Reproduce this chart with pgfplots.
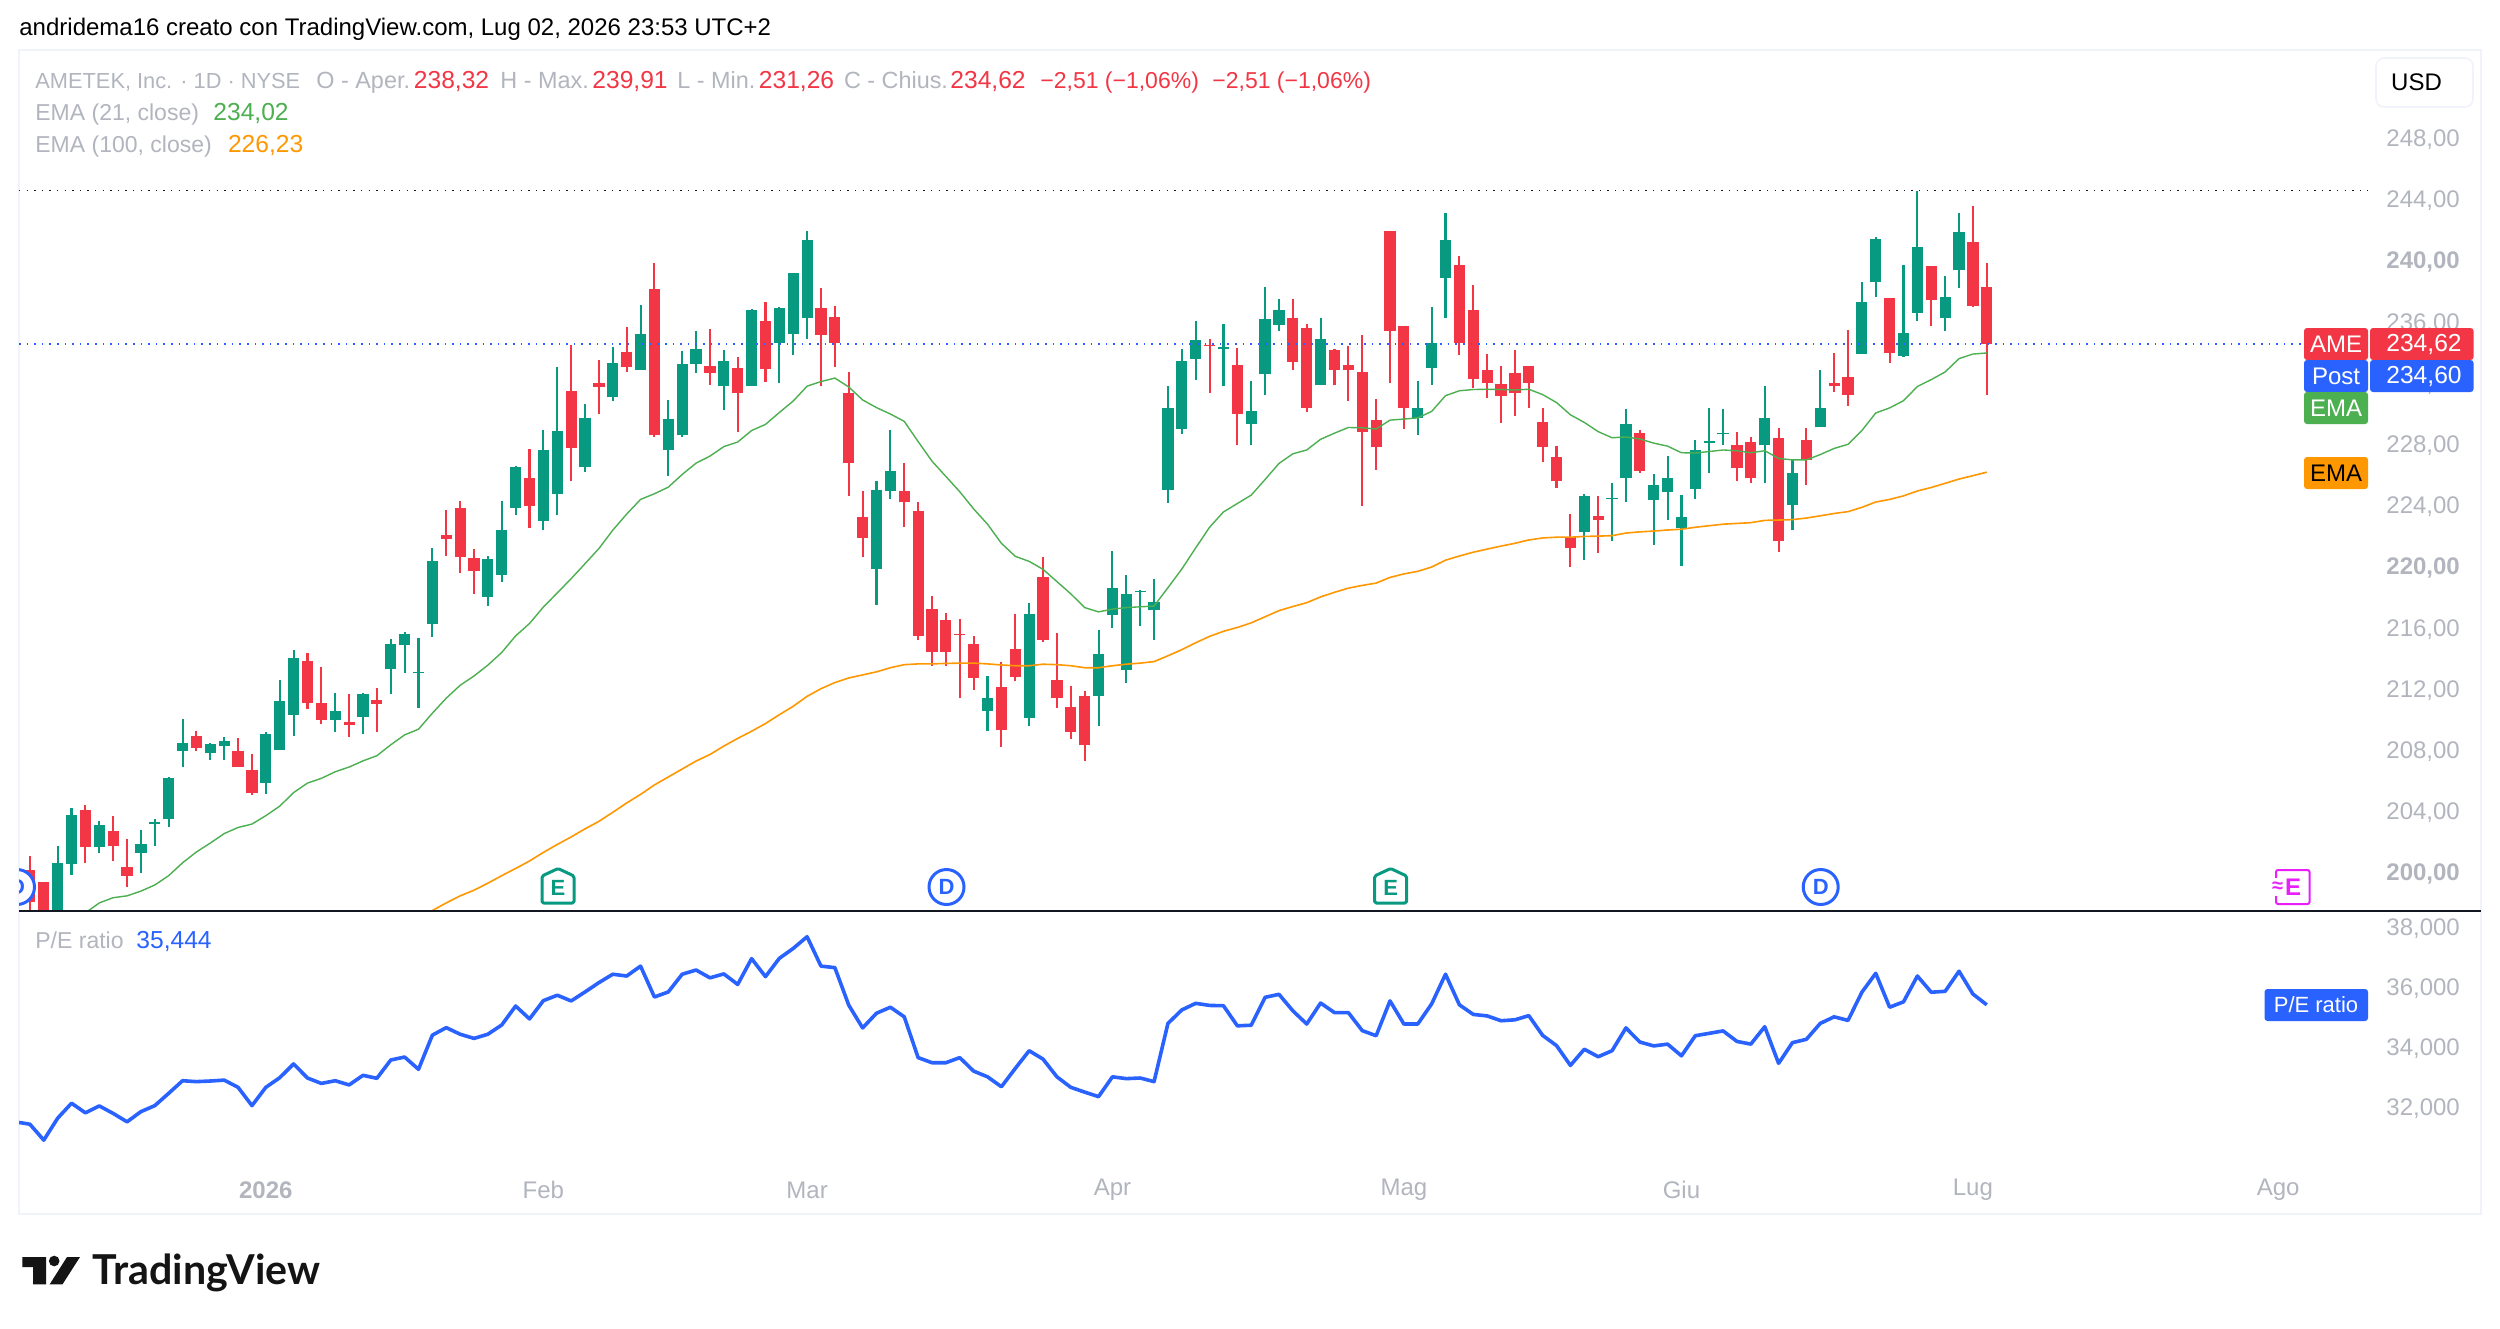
\documentclass[border=0pt]{standalone}
\usepackage{fontspec}
\setmainfont{Liberation Sans}
\newfontfamily\logofont{Lato}
\usepackage{pgfplots}
\usepackage{pgfplotstable}
\pgfplotsset{compat=1.18}
\definecolor{tvgreen}{HTML}{089981}
\definecolor{tvred}{HTML}{F23645}
\definecolor{tvblue}{HTML}{2962FF}
\definecolor{tvgray}{HTML}{B2B5BE}
\definecolor{emag}{HTML}{4CAF50}
\definecolor{emao}{HTML}{FF9800}
\definecolor{tvframe}{HTML}{F0F3FA}
\definecolor{tvblack}{HTML}{131722}
\definecolor{tvmag}{HTML}{E91EFB}
\pgfplotstableread{
i hi top bot lo
2 201.78 200.70 196.50 196.50
3 204.28 203.81 200.60 199.93
5 203.41 203.20 201.71 201.35
8 202.83 201.96 201.35 200.05
9 203.54 203.35 203.26 201.78
10 206.34 206.22 203.54 203.07
11 210.11 208.56 207.98 206.99
13 208.50 208.44 207.88 207.39
14 208.93 208.69 208.32 207.45
17 209.24 209.12 205.94 205.17
18 212.63 211.25 208.10 208.10
19 214.61 214.11 210.38 208.99
22 211.83 210.60 210.01 209.24
24 211.77 211.71 210.26 209.09
26 215.35 214.98 213.34 211.71
27 215.81 215.66 214.92 213.10
28 215.41 213.19 213.10 210.85
29 221.30 220.41 216.30 215.47
33 220.72 220.53 218.06 217.48
34 224.36 222.44 219.48 219.05
35 226.64 226.58 223.89 223.40
37 228.98 227.69 223.03 222.47
38 233.12 228.92 224.79 223.40
40 230.68 229.78 226.55 226.24
42 234.41 233.36 231.11 230.86
44 237.13 235.27 232.93 232.93
46 230.96 229.72 227.66 225.99
47 234.15 233.28 228.63 228.55
48 235.45 234.25 233.30 232.70
50 234.23 233.48 231.85 230.30
52 236.88 236.80 231.85 231.83
54 237.00 236.93 234.68 232.08
55 239.23 239.23 235.23 233.88
56 242.00 241.43 236.28 234.93
61 225.65 225.05 219.88 217.55
62 228.98 226.28 225.03 224.50
69 212.90 211.45 210.60 209.33
72 217.65 216.98 210.15 209.63
77 215.90 214.35 211.58 209.63
78 221.08 218.63 216.88 216.03
79 219.50 218.25 213.30 212.48
80 218.53 218.45 218.38 216.20
81 219.23 217.75 217.20 215.25
82 231.88 230.45 225.08 224.20
83 234.25 233.48 229.08 228.73
84 236.13 234.88 233.60 232.28
86 235.93 234.40 234.30 231.83
88 232.18 230.20 229.35 227.98
89 238.35 236.25 232.65 231.25
90 237.55 236.80 235.88 235.43
93 236.30 234.95 231.90 231.90
100 232.18 230.40 229.78 228.63
101 237.00 234.65 233.03 231.93
102 243.15 241.38 238.95 236.33
112 224.78 224.65 222.35 220.50
114 225.50 224.55 224.45 221.70
115 230.38 229.40 225.88 224.25
117 226.13 225.38 224.38 221.45
118 227.28 225.83 224.95 223.13
119 224.73 223.30 222.55 220.13
120 228.35 227.65 225.13 224.50
121 230.40 228.25 228.15 226.15
122 230.35 228.80 228.70 228.03
125 231.88 229.78 227.98 225.55
127 227.10 226.20 224.10 222.43
129 232.90 230.40 229.15 229.15
132 238.63 237.35 233.95 233.95
133 241.58 241.50 238.63 237.70
135 239.78 235.30 233.80 233.75
136 244.63 240.93 236.65 236.10
138 239.03 237.65 236.28 235.48
139 243.15 241.90 239.43 238.25
}\upcandles
\pgfplotstableread{
i hi top bot lo
0 201.13 200.23 198.14 197.00
1 199.46 199.46 196.50 196.50
4 204.46 204.18 201.71 200.67
6 203.75 202.76 201.78 200.85
7 202.24 200.45 199.86 199.12
12 209.30 208.99 208.22 207.98
15 208.87 207.98 206.99 206.93
16 207.82 206.77 205.26 205.14
20 214.42 213.87 211.15 210.72
21 213.50 211.15 210.01 209.77
23 211.71 209.92 209.73 208.93
25 212.14 211.37 211.09 209.24
30 223.74 222.13 221.86 220.75
31 224.36 223.86 220.68 219.64
32 221.18 220.59 219.76 218.28
36 227.72 225.84 223.99 222.60
39 234.53 231.51 227.78 225.68
41 233.58 232.07 231.82 230.00
43 235.71 234.10 233.08 232.75
45 239.90 238.17 228.64 228.52
49 235.58 233.15 232.73 231.95
51 233.73 233.05 231.40 228.83
53 237.35 236.13 232.95 232.15
57 238.28 236.93 235.18 231.83
58 237.08 236.38 234.70 233.08
59 232.80 231.38 226.80 224.70
60 224.98 223.30 221.93 220.70
63 226.80 225.03 224.25 222.63
64 224.30 223.68 215.53 215.28
65 218.13 217.28 214.48 213.53
66 217.00 216.58 214.48 213.53
67 216.63 215.68 215.58 211.45
68 215.53 214.98 212.75 212.00
70 213.80 212.20 209.35 208.30
71 216.98 214.68 212.83 212.55
73 220.70 219.38 215.28 215.15
74 215.70 212.63 211.45 210.83
75 212.28 210.90 209.23 208.80
76 211.93 211.60 208.38 207.38
85 234.95 234.55 234.45 231.40
87 234.33 233.23 230.05 228.03
91 237.55 236.28 233.45 232.93
92 235.93 235.63 230.45 230.13
94 234.28 234.20 232.90 231.90
95 234.48 233.23 232.90 230.88
96 235.20 232.80 228.88 224.00
97 231.00 229.65 227.85 226.40
98 242.00 242.00 235.43 232.03
99 235.78 235.75 230.43 229.05
103 240.33 239.80 234.68 233.88
104 238.48 236.80 232.35 231.73
105 233.95 232.90 232.08 231.10
106 233.15 231.98 231.18 229.45
107 234.23 232.68 231.38 229.90
108 233.15 233.15 232.08 230.43
109 230.40 229.48 227.85 226.90
110 227.93 227.25 225.63 225.18
111 223.48 221.98 221.25 220.00
113 224.68 223.35 223.10 220.98
116 228.98 228.78 226.28 226.20
123 228.85 227.98 226.50 225.63
124 228.53 228.23 225.88 225.50
126 229.10 228.48 221.75 221.00
128 229.10 228.30 227.03 225.38
130 234.05 232.05 231.83 231.48
131 235.50 232.48 231.25 230.55
134 237.63 237.63 234.00 233.38
137 239.68 239.68 237.48 235.78
140 243.60 241.30 237.08 237.00
141 239.91 238.32 234.62 231.26
}\downcandles
\pgfplotstableread[row sep=\\]{
i v\\
3 196.84\\4 197.43\\5 198.08\\6 198.42\\7 198.54\\8 198.85\\9 199.25\\10 199.86\\11 200.70\\12 201.41\\13 201.99\\14 202.61\\15 203.01\\16 203.23\\17 203.78\\18 204.40\\19 205.29\\20 205.91\\21 206.22\\22 206.65\\23 206.96\\24 207.36\\25 207.70\\26 208.41\\27 209.06\\28 209.43\\29 210.48\\30 211.46\\31 212.30\\32 212.91\\33 213.62\\34 214.45\\35 215.53\\36 216.34\\37 217.42\\38 218.34\\39 219.27\\40 220.25\\41 221.24\\42 222.44\\43 223.49\\44 224.45\\45 224.82\\46 225.25\\47 226.08\\48 226.82\\49 227.28\\50 227.90\\51 228.20\\52 228.95\\53 229.35\\54 230.13\\55 230.88\\56 231.85\\57 232.15\\58 232.38\\59 231.80\\60 230.95\\61 230.45\\62 230.03\\63 229.55\\64 228.23\\65 226.95\\66 225.95\\67 224.95\\68 223.83\\69 222.83\\70 221.58\\71 220.73\\72 220.40\\73 219.88\\74 219.08\\75 218.28\\76 217.38\\77 217.10\\78 217.28\\79 217.38\\80 217.43\\81 217.48\\82 218.68\\83 219.90\\84 221.28\\85 222.63\\86 223.63\\87 224.18\\88 224.73\\89 225.75\\90 226.80\\91 227.43\\92 227.68\\93 228.38\\94 228.78\\95 229.15\\96 229.13\\97 229.05\\98 229.63\\99 229.70\\100 229.78\\101 230.20\\102 231.23\\103 231.55\\104 231.63\\105 231.65\\106 231.63\\107 231.60\\108 231.65\\109 231.30\\110 230.78\\111 229.98\\112 229.48\\113 228.88\\114 228.48\\115 228.53\\116 228.40\\117 228.13\\118 227.93\\119 227.50\\120 227.48\\121 227.58\\122 227.68\\123 227.63\\124 227.50\\125 227.63\\126 227.13\\127 227.03\\128 227.03\\129 227.38\\130 227.78\\131 228.05\\132 228.95\\133 230.10\\134 230.43\\135 230.90\\136 231.83\\137 232.28\\138 232.78\\139 233.65\\140 233.95\\141 234.02\\
}\emaShort
\pgfplotstableread[row sep=\\]{
i v\\
28 197.03\\29 197.58\\30 198.08\\31 198.54\\32 198.91\\33 199.37\\34 199.86\\35 200.33\\36 200.82\\37 201.38\\38 201.90\\39 202.39\\40 202.92\\41 203.41\\42 204.00\\43 204.61\\44 205.17\\45 205.79\\46 206.31\\47 206.83\\48 207.35\\49 207.78\\50 208.33\\51 208.83\\52 209.30\\53 209.80\\54 210.38\\55 210.93\\56 211.58\\57 212.08\\58 212.48\\59 212.78\\60 212.98\\61 213.18\\62 213.45\\63 213.65\\64 213.70\\65 213.70\\66 213.73\\67 213.75\\68 213.75\\69 213.70\\70 213.63\\71 213.58\\72 213.58\\73 213.68\\74 213.65\\75 213.58\\76 213.45\\77 213.45\\78 213.58\\79 213.68\\80 213.75\\81 213.85\\82 214.23\\83 214.63\\84 215.08\\85 215.50\\86 215.83\\87 216.08\\88 216.38\\89 216.78\\90 217.18\\91 217.45\\92 217.70\\93 218.08\\94 218.38\\95 218.65\\96 218.83\\97 218.98\\98 219.35\\99 219.58\\100 219.75\\101 220.03\\102 220.48\\103 220.75\\104 221.00\\105 221.20\\106 221.40\\107 221.58\\108 221.80\\109 221.93\\110 221.98\\111 221.98\\112 222.03\\113 222.05\\114 222.08\\115 222.25\\116 222.33\\117 222.38\\118 222.45\\119 222.50\\120 222.63\\121 222.73\\122 222.83\\123 222.88\\124 222.93\\125 223.08\\126 223.10\\127 223.13\\128 223.23\\129 223.38\\130 223.53\\131 223.65\\132 223.93\\133 224.28\\134 224.45\\135 224.68\\136 225.00\\137 225.23\\138 225.50\\139 225.78\\140 226.00\\141 226.23\\
}\emaLong
\pgfplotstableread[row sep=\\]{
i v\\
-0.78 31.52\\0 31.46\\1 30.93\\2 31.66\\3 32.16\\4 31.84\\5 32.07\\6 31.82\\7 31.54\\8 31.88\\9 32.08\\10 32.49\\11 32.91\\12 32.88\\13 32.90\\14 32.93\\15 32.69\\16 32.08\\17 32.69\\18 33.01\\19 33.47\\20 33.00\\21 32.82\\22 32.91\\23 32.77\\24 33.09\\25 32.99\\26 33.60\\27 33.70\\28 33.29\\29 34.43\\30 34.68\\31 34.46\\32 34.32\\33 34.46\\34 34.77\\35 35.40\\36 34.97\\37 35.58\\38 35.76\\39 35.57\\40 35.87\\41 36.18\\42 36.46\\43 36.40\\44 36.73\\45 35.70\\46 35.87\\47 36.46\\48 36.60\\49 36.34\\50 36.47\\51 36.12\\52 36.98\\53 36.38\\54 36.99\\55 37.32\\56 37.71\\57 36.73\\58 36.68\\59 35.43\\60 34.67\\61 35.16\\62 35.36\\63 35.04\\64 33.68\\65 33.51\\66 33.51\\67 33.68\\68 33.23\\69 33.04\\70 32.71\\71 33.32\\72 33.91\\73 33.63\\74 33.04\\75 32.69\\76 32.53\\77 32.38\\78 33.04\\79 32.98\\80 33.00\\81 32.88\\82 34.82\\83 35.27\\84 35.49\\85 35.42\\86 35.41\\87 34.74\\88 34.76\\89 35.69\\90 35.79\\91 35.24\\92 34.80\\93 35.50\\94 35.18\\95 35.18\\96 34.58\\97 34.41\\98 35.57\\99 34.80\\100 34.80\\101 35.47\\102 36.46\\103 35.44\\104 35.12\\105 35.07\\106 34.91\\107 34.94\\108 35.08\\109 34.42\\110 34.08\\111 33.42\\112 33.96\\113 33.71\\114 33.91\\115 34.67\\116 34.20\\117 34.07\\118 34.13\\119 33.74\\120 34.41\\121 34.49\\122 34.57\\123 34.22\\124 34.13\\125 34.71\\126 33.49\\127 34.18\\128 34.29\\129 34.82\\130 35.04\\131 34.92\\132 35.86\\133 36.49\\134 35.36\\135 35.54\\136 36.40\\137 35.86\\138 35.89\\139 36.56\\140 35.80\\141 35.44\\
}\peTable
\pgfplotstableread{
i v
-0.785 234.62
163.85 234.62
}\lastLine
\pgfplotstableread{
i v
-0.785 244.65
168.47 244.65
}\highLine
\newcommand{\lbl}[5][tvgray]{\node[anchor=base west,inner sep=0pt,text=#1,font=\fontsize{#2}{#2}\selectfont] at (#3,#4) {#5};}
\newcommand{\tag}[7]{%
  \fill[#5,rounded corners=1.5pt] (#1,#3) rectangle (#2,#4);
  \node[text=#6,font=\fontsize{12}{12}\selectfont,inner sep=0pt] at ({(#1+#2)/2},{(#3+#4)/2}) {#7};}
\newcommand{\Dicon}[1]{%
  \fill[white] (#1,887) circle (18.5);
  \draw[tvblue,line width=1.5pt] (#1,887) circle (17.5);
  \node[text=tvblue,font=\fontsize{11}{11}\selectfont\bfseries,inner sep=0pt] at (#1,887) {D};}
\newcommand{\Eicon}[1]{%
  \filldraw[fill=white,draw=tvgreen,line width=1.5pt,line join=round,rounded corners=0.8pt] ({#1-16},876) -- (#1,868.5) -- ({#1+16},876) -- ({#1+16},903) -- ({#1-16},903) -- cycle;
  \node[text=tvgreen,font=\fontsize{11}{11}\selectfont\bfseries,inner sep=0pt] at (#1,887.5) {E};}
\pgfplotsset{candle/.style n args={2}{draw=none,mark=none,mark size=0pt,forget plot,
  error bars/y dir=plus,error bars/y explicit,error bars/error mark=none,
  error bars/error bar style={draw=#1,solid,line width=#2}}}
\begin{document}
\begin{tikzpicture}[x=0.5pt,y=-0.5pt]
\path[use as bounding box] (0,0) rectangle (2500,1328);
\fill[white] (0,0) rectangle (2500,1328);
\draw[tvframe,line width=1pt] (19,50) rectangle (2481,1214);
% main pane
\begin{axis}[
  at={(9.5pt,-455.5pt)},anchor=south west,scale only axis,
  width=1174.5pt,height=430.5pt,
  xmin=-0.785,xmax=168.47,ymin=197.55,ymax=253.82,
  axis line style={draw=none},major tick length=0pt,
  xtick=\empty,
  yticklabel pos=right,
  ytick={200,204,208,212,216,220,224,228,232,236,240,244,248},
  yticklabels={\textbf{200,00},{204,00},{208,00},{212,00},{216,00},\textbf{220,00},{224,00},{228,00},{232,00},{236,00},\textbf{240,00},{244,00},{248,00}},
  yticklabel style={anchor=west,inner sep=0pt,xshift=9pt,yshift=-0.4pt,text=tvgray,font=\fontsize{12}{12}\selectfont},
]
\addplot[candle={tvgreen}{1.05pt}] table[x=i,y=lo,y error plus expr=\thisrow{hi}-\thisrow{lo}] {\upcandles};
\addplot[candle={tvgreen}{5.6pt}] table[x=i,y=bot,y error plus expr=\thisrow{top}-\thisrow{bot}] {\upcandles};
\addplot[candle={tvred}{1.05pt}] table[x=i,y=lo,y error plus expr=\thisrow{hi}-\thisrow{lo}] {\downcandles};
\addplot[candle={tvred}{5.6pt}] table[x=i,y=bot,y error plus expr=\thisrow{top}-\thisrow{bot}] {\downcandles};
\addplot[emag,line width=0.7pt,line join=round,no marks] table[x=i,y=v] {\emaShort};
\addplot[emao,line width=0.8pt,line join=round,no marks] table[x=i,y=v] {\emaLong};
\addplot[tvblue,line width=0.8pt,no marks,dash pattern=on 0.8pt off 3pt] table[x=i,y=v] {\lastLine};
\addplot[tvblack,line width=0.7pt,no marks,dash pattern=on 0.7pt off 3.1pt] table[x=i,y=v] {\highLine};
\end{axis}
% lower pane
\begin{axis}[
  at={(9.5pt,-607pt)},anchor=south west,scale only axis,
  width=1174.5pt,height=151.5pt,
  xmin=-0.785,xmax=168.47,ymin=28.467,ymax=38.567,
  axis line style={draw=none},major tick length=0pt,
  yticklabel pos=right,
  xtick={17,37,56,78,99,119,140,162},
  xticklabels={\textbf{2026},Feb,Mar,Apr,Mag,Giu,Lug,Ago},
  xticklabel style={anchor=center,inner sep=0pt,yshift=12pt,text=tvgray,font=\fontsize{12}{12}\selectfont},
  ytick={32,34,36,38},
  yticklabels={{32,000},{34,000},{36,000},{38,000}},
  yticklabel style={anchor=west,inner sep=0pt,xshift=9pt,yshift=-0.15pt,text=tvgray,font=\fontsize{12}{12}\selectfont},
]
\addplot[tvblue,line width=1.8pt,line join=round,no marks] table[x=i,y=v] {\peTable};
\end{axis}
\draw[tvblack,line width=1pt] (19,911) -- (2481,911);
% event icons
\begin{scope}
\clip (19,850) rectangle (60,910);
\Dicon{17}
\end{scope}
\Dicon{946.5}
\Dicon{1820.7}
\Eicon{558}
\Eicon{1390.6}
\filldraw[fill=white,draw=tvmag,line width=1pt,rounded corners=1pt] (2276,870) rectangle (2309.5,904);
\fill[white] (2272,878) rectangle (2281,896);
\node[text=tvmag,font=\fontsize{10}{10}\selectfont\bfseries,inner sep=0pt] at (2277.5,887) {≈};
\node[text=tvmag,font=\fontsize{12}{12}\selectfont\bfseries,inner sep=0pt] at (2293,887) {E};
% title and legend
\lbl[black]{12}{19}{35.5}{andridema16 creato con TradingView.com, Lug 02, 2026 23:53 UTC+2}
\lbl{10.9}{35}{88}{AMETEK, Inc. · 1D · NYSE}
\lbl{11.7}{316}{88}{O - Aper.}
\lbl[tvred]{12.3}{413.5}{88}{238,32}
\lbl{11.7}{500}{88}{H - Max.}
\lbl[tvred]{12.3}{592}{88}{239,91}
\lbl{11.7}{677}{88}{L - Min.}
\lbl[tvred]{12.3}{758.5}{88}{231,26}
\lbl{11.7}{843.6}{88}{C - Chius.}
\lbl[tvred]{12.3}{950}{88}{234,62}
\lbl[tvred]{11.5}{1040}{88}{−2,51 (−1,06\%)}
\lbl[tvred]{11.5}{1212}{88}{−2,51 (−1,06\%)}
\lbl{11.5}{35}{120}{EMA (21, close)}
\lbl[emag]{12.3}{213}{120}{234,02}
\lbl{11.5}{35}{152}{EMA (100, close)}
\lbl[emao]{12.3}{227.6}{152}{226,23}
\lbl{11.5}{35}{948}{P/E ratio}
\lbl[tvblue]{12.3}{136}{948}{35,444}
% currency button
\draw[tvframe,line width=0.8pt,rounded corners=4pt,fill=white] (2376,58) rectangle (2473,107);
\node[text=black,font=\fontsize{12}{12}\selectfont,inner sep=0pt] at (2416.5,82.5) {USD};
% price tags
\tag{2304}{2368}{328}{360}{tvred}{white}{AME}
\tag{2370}{2473.5}{328}{360}{tvred}{white}{}
\node[anchor=east,text=white,font=\fontsize{12.3}{12}\selectfont,inner sep=0pt] at (2462,344) {234,62};
\tag{2304}{2368}{360}{392}{tvblue}{white}{Post}
\tag{2370}{2473.5}{360}{392}{tvblue}{white}{}
\node[anchor=east,text=white,font=\fontsize{12.3}{12}\selectfont,inner sep=0pt] at (2462,376) {234,60};
\tag{2304}{2368}{392}{424}{emag}{white}{EMA}
\tag{2304}{2368}{457}{489}{emao}{black}{EMA}
\tag{2264.5}{2368}{989}{1021}{tvblue}{white}{}
\node[text=white,font=\fontsize{11}{11}\selectfont,inner sep=0pt] at (2316,1005) {P/E ratio};
% logo
\fill[black!92] (22.3,1257) -- (46,1257) -- (46,1284.3) -- (33,1284.3) -- (33,1267) -- (22.3,1267) -- cycle;
\fill[black!92] (54.2,1261) circle (5.3);
\fill[black!92] (49.7,1284.3) -- (62.5,1284.3) -- (80,1257) -- (67,1257) -- cycle;
\node[anchor=base west,inner sep=0pt,text=black!92,font=\logofont\bfseries\fontsize{20.6}{20}\selectfont] at (92.5,1284.5) {TradingView};
\end{tikzpicture}
\end{document}
